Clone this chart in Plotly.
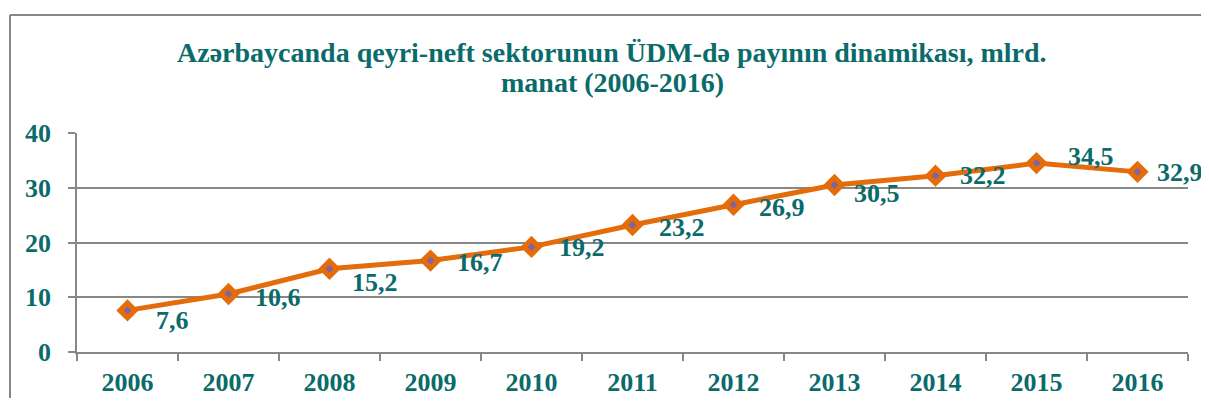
import plotly.graph_objects as go

years = ["2006", "2007", "2008", "2009", "2010", "2011", "2012", "2013", "2014", "2015", "2016"]
values = [7.6, 10.6, 15.2, 16.7, 19.2, 23.2, 26.9, 30.5, 32.2, 34.5, 32.9]
y_ticks = [0, 10, 20, 30, 40]
title_line1 = "Azərbaycanda qeyri-neft sektorunun ÜDM-də payının dinamikası, mlrd."
title_line2 = "manat (2006-2016)"

# label placement offsets (pixels): right shift and downward shift
label_dx = [28, 26, 22, 26, 27, 26, 25, 19, 24, 31, 19]
label_dy = [10, 4, 14, 2, 1, 3, 3, 8, 0, -7, 1]

OFF = 8  # page body margin
W, H = 1209 - OFF, 406 - 2 * OFF
L, R, T = 77 - OFF, 21, 133 - OFF
B = H - T - (352 - 133)
TEAL = "#0B6B6B"
ORANGE = "#E46C0A"
PURPLE = "#8064A2"
GRAY = "#878787"
FONT = "Liberation Serif, Times New Roman, serif"

pw = W - L - R
ph = H - T - B


def px(x):
    return (x - OFF - L) / pw


def py(y):
    return (H - B - (y - OFF)) / ph


fig = go.Figure()
fig.add_trace(go.Scatter(
    x=years, y=values, mode="lines+markers",
    line=dict(color=ORANGE, width=5),
    marker=dict(symbol="diamond", size=15, color=ORANGE, line=dict(color=ORANGE, width=2)),
    hoverinfo="skip", showlegend=False,
))
fig.add_trace(go.Scatter(
    x=years, y=values, mode="markers",
    marker=dict(symbol="diamond", size=6, color=PURPLE, line=dict(width=0)),
    hoverinfo="skip", showlegend=False,
))

annotations = []
for i, (v, dx, dy) in enumerate(zip(values, label_dx, label_dy)):
    annotations.append(dict(
        x=i, y=v, xref="x", yref="y", text=f"{v:.1f}".replace(".", ","),
        showarrow=False, xanchor="left", yanchor="middle", xshift=dx - 2, yshift=-dy,
        font=dict(family=FONT, size=26, color=TEAL, weight="bold"),
    ))

annotations.append(dict(
    x=px(612), y=py(52), xref="paper", yref="paper", text=title_line1, showarrow=False,
    xanchor="center", yanchor="middle",
    font=dict(family=FONT, size=28, color=TEAL, weight="bold"),
))
annotations.append(dict(
    x=px(612), y=py(82), xref="paper", yref="paper", text=title_line2, showarrow=False,
    xanchor="center", yanchor="middle",
    font=dict(family=FONT, size=28, color=TEAL, weight="bold"),
))

shapes = [
    dict(type="line", xref="paper", yref="paper", x0=px(10), x1=px(1220), y0=py(15), y1=py(15),
         line=dict(color=GRAY, width=2)),
    dict(type="line", xref="paper", yref="paper", x0=px(10), x1=px(10), y0=py(15), y1=py(420),
         line=dict(color=GRAY, width=2)),
]

fig.update_layout(
    width=W, height=H,
    margin=dict(l=L, r=R, t=T, b=B, autoexpand=False),
    paper_bgcolor="white", plot_bgcolor="white",
    annotations=annotations, shapes=shapes,
    xaxis=dict(
        type="category", tickson="boundaries", ticks="outside", ticklen=7, tickcolor=GRAY, tickwidth=1.5,
        showline=True, linecolor=GRAY, linewidth=1.5, showgrid=False, automargin=False,
        tickfont=dict(family=FONT, size=26, color=TEAL, weight="bold"),
        ticklabelstandoff=6, range=[-0.5, 10.5],
    ),
    yaxis=dict(
        range=[0, 40], tickvals=y_ticks, ticks="outside", ticklen=7, tickcolor=GRAY, tickwidth=1.5,
        showline=True, linecolor=GRAY, linewidth=1.5, showgrid=True, gridcolor=GRAY, gridwidth=1.5,
        zeroline=False, automargin=False,
        tickfont=dict(family=FONT, size=26, color=TEAL, weight="bold"),
        ticklabelstandoff=12,
    ),
)

fig.write_html("out.html")
